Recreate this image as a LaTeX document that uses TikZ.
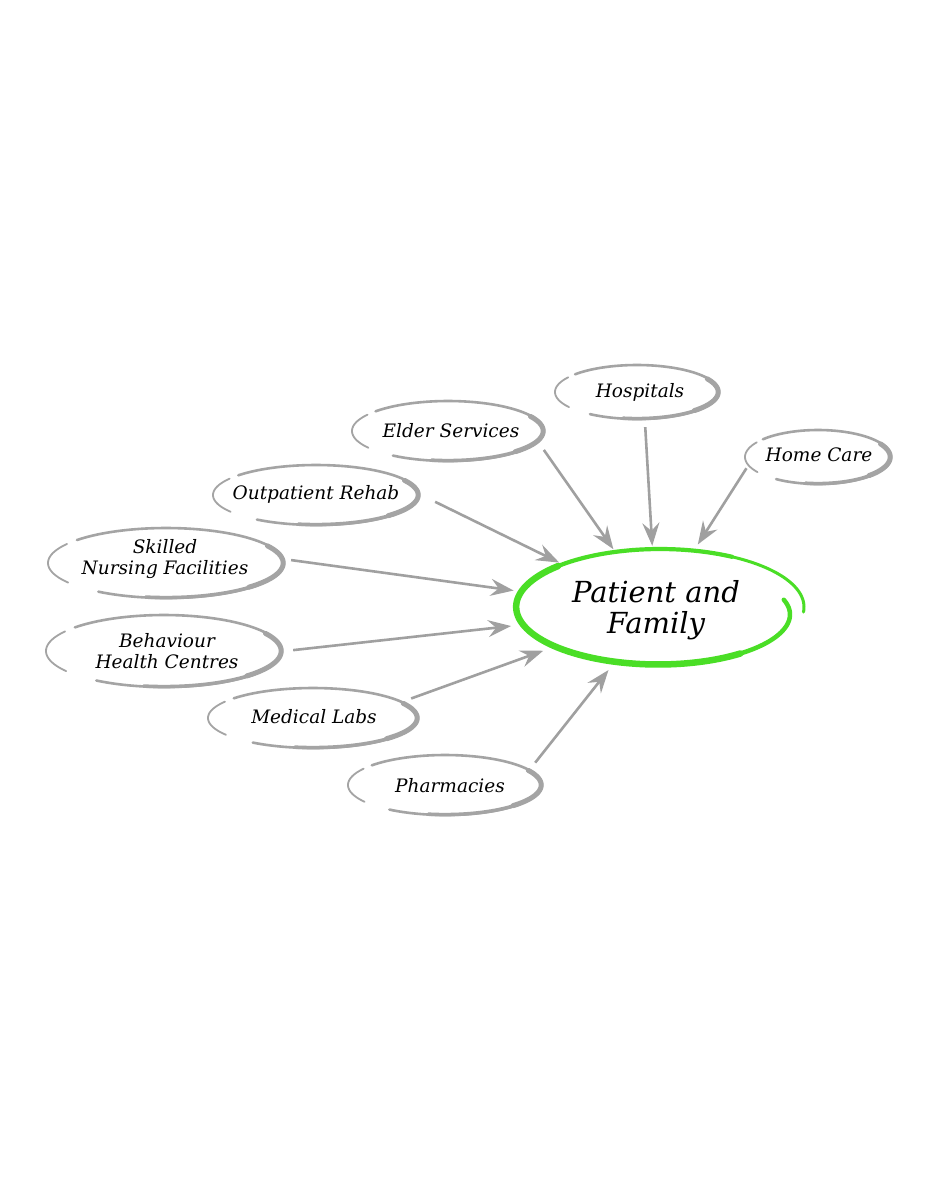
\documentclass[tikz,border=0pt]{standalone}
\usepackage{fontspec}
\setmainfont{DejaVu Serif}
\usetikzlibrary{shapes.geometric,arrows.meta}
\definecolor{ringgray}{HTML}{A4A4A4}
\definecolor{arrgray}{HTML}{A0A0A0}
\definecolor{pfgreen}{HTML}{4ADE26}
\newcommand{\ringdeco}[4]{%
  \draw[ringgray, line width=1.8pt, line cap=round] plot[domain=146:213, samples=30, variable=\t] ({#1+#3*cos(\t)},{#2+#4*sin(\t)});
  \draw[ringgray, line width=2.6pt, line cap=round] plot[domain=221:485, samples=90, variable=\t] ({#1+#3*cos(\t)},{#2+#4*sin(\t)});
  \draw[ringgray, line width=5pt, line cap=round] plot[domain=330:405, samples=40, variable=\t] ({#1+(#3-0.8)*cos(\t)},{#2+(#4-0.8)*sin(\t)});
  \draw[ringgray, line width=3.6pt, line cap=round] plot[domain=400:460, samples=30, variable=\t] ({#1+(#3-0.4)*cos(\t)},{#2+(#4-0.4)*sin(\t)});
}
\tikzset{
  cat/.style={ellipse, inner sep=0pt, align=center, text=black,
    font=\itshape\fontsize{18.5}{20.5}\selectfont},
  feed/.style={arrgray, line width=2.6pt,
    -{Stealth[length=23pt,width=17pt,inset=8pt]},
    shorten <=8pt, shorten >=7pt}
}
\begin{document}
\begin{tikzpicture}[x=1pt,y=-1pt]
\fill[white] (0,0) rectangle (927,1200);
\useasboundingbox (0,0) rectangle (927,1200);

% centre node
\node[ellipse, inner sep=0pt, minimum width=286pt, minimum height=114pt, align=center,
  font=\itshape\fontsize{29}{31}\selectfont] (pf) at (656,610) {Patient and\\Family};
\draw[pfgreen, line width=4.5pt, line cap=round]
  plot[domain=-8:60, samples=40, variable=\t] ({660+(144-19*exp(-(\t+8)/40))*cos(\t)},{607+(58-6*exp(-(\t+8)/40))*sin(\t)});
\draw[pfgreen, line width=6.5pt, line cap=round]
  plot[domain=55:225, samples=80, variable=\t] ({660+(144-19*exp(-(\t+8)/40))*cos(\t)},{607+(58-6*exp(-(\t+8)/40))*sin(\t)});
\draw[pfgreen, line width=4.2pt, line cap=round]
  plot[domain=220:300, samples=40, variable=\t] ({660+(144-19*exp(-(\t+8)/40))*cos(\t)},{607+(58-6*exp(-(\t+8)/40))*sin(\t)});
\draw[pfgreen, line width=3pt, line cap=round]
  plot[domain=295:365, samples=40, variable=\t] ({660+(144-19*exp(-(\t+8)/40))*cos(\t)},{607+(58-6*exp(-(\t+8)/40))*sin(\t)});

% surrounding nodes
\node[cat, minimum width=164pt, minimum height=54pt] (hosp) at (640,392) {Hospitals};
\ringdeco{637}{392}{82}{27}
\node[cat, minimum width=192pt, minimum height=60pt] (es) at (451,431) {Elder Services};
\ringdeco{448}{431}{96}{30}
\node[cat, minimum width=146pt, minimum height=54pt] (hc) at (819,455) {Home Care};
\ringdeco{818}{457}{73}{27}
\node[cat, minimum width=206pt, minimum height=60pt] (or) at (316,494) {Outpatient Rehab};
\ringdeco{316}{495}{103}{30}
\node[cat, minimum width=236pt, minimum height=70pt] (sn) at (165,559) {Skilled\\Nursing Facilities};
\ringdeco{166}{563}{118}{35}
\node[cat, minimum width=236pt, minimum height=72pt] (bh) at (167,651) {Behaviour\\Health Centres};
\ringdeco{164}{651}{118}{36}
\node[cat, minimum width=210pt, minimum height=60pt] (ml) at (314,717) {Medical Labs};
\ringdeco{313}{718}{105}{30}
\node[cat, minimum width=194pt, minimum height=60pt] (ph) at (450,786) {Pharmacies};
\ringdeco{445}{785}{97}{30}

% connectors
\draw[feed] (es.-8) -- (pf);
\draw[feed] (hosp.-80) -- (pf);
\draw[feed, shorten <=4pt, shorten >=12pt] (hc.188) -- (pf);
\draw[feed, shorten <=4pt] (or.-3) -- (pf);
\draw[feed] (sn.east) -- (pf);
\draw[feed] (bh.east) -- (pf);
\draw[feed] (ml.10) -- (pf);
\draw[feed] (ph.12) -- (pf);
\end{tikzpicture}
\end{document}
